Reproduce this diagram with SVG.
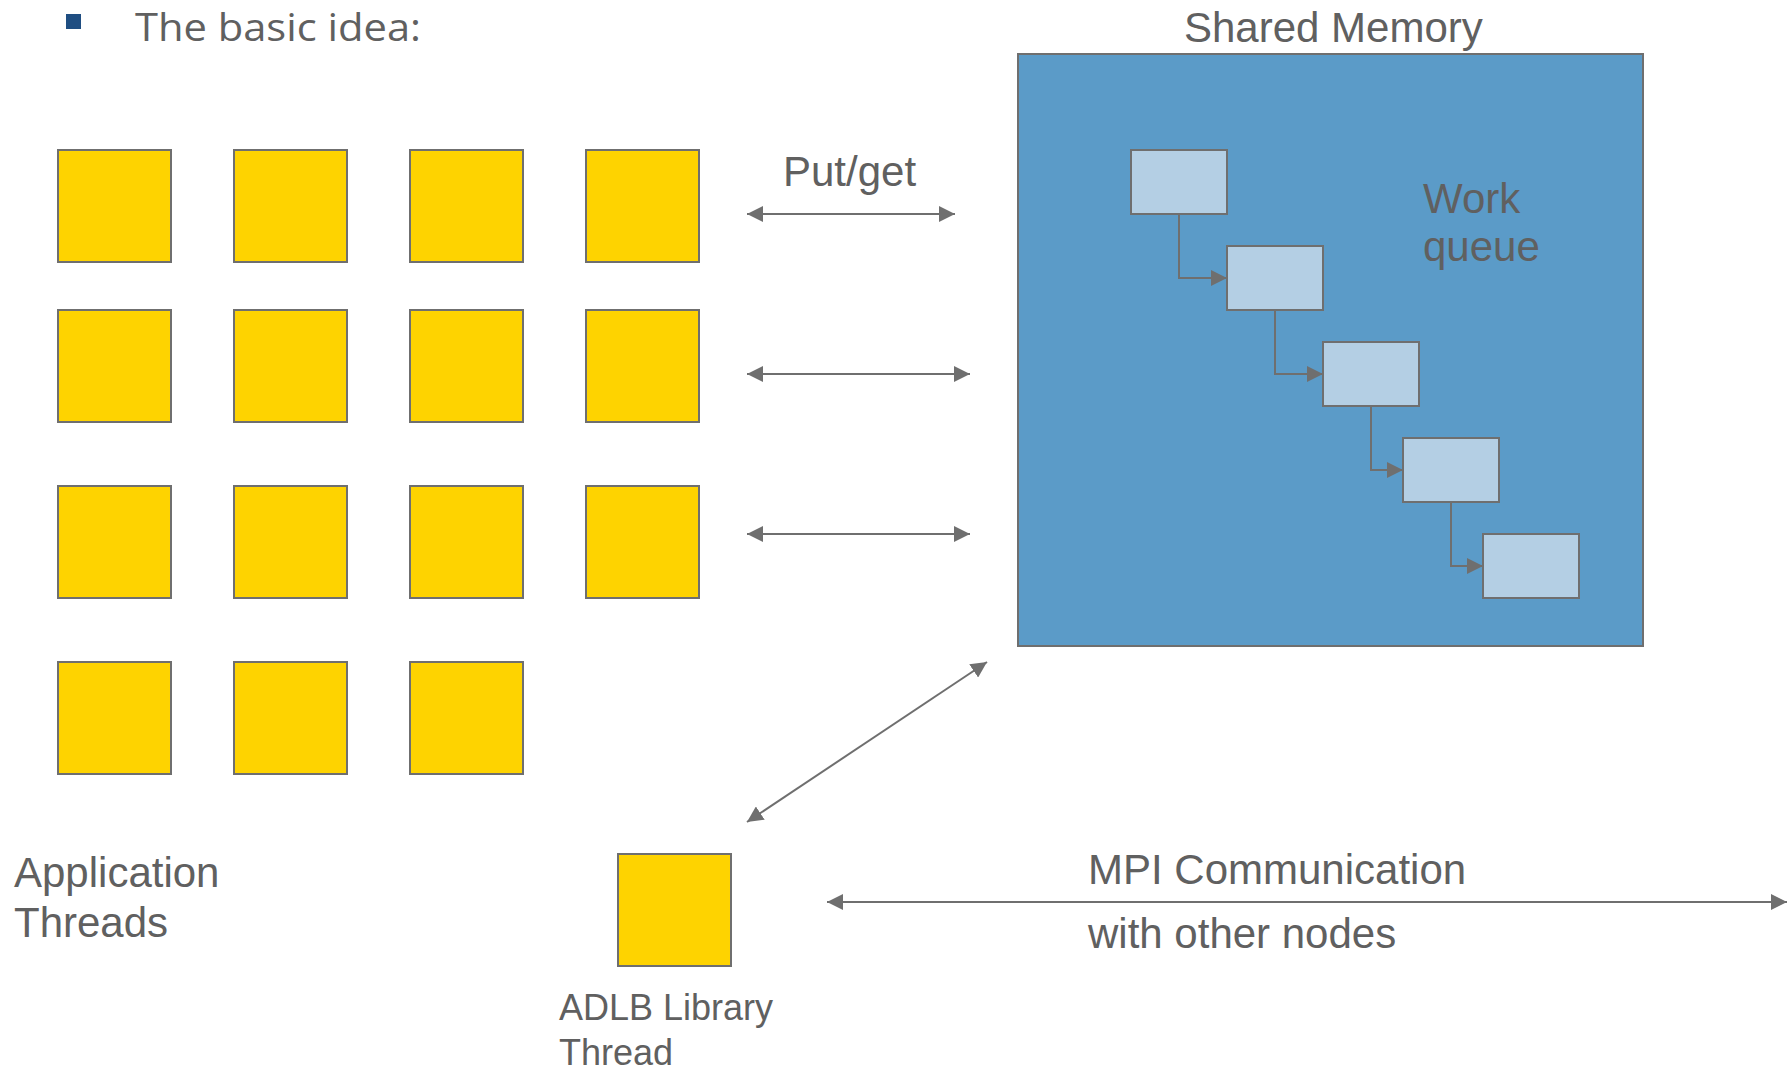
<svg xmlns="http://www.w3.org/2000/svg" width="1792" height="1070" viewBox="0 0 1792 1070">
<defs>
<style>
.t{font-family:"Liberation Sans",Arial,sans-serif;font-size:42px;fill:#606060}
.s{font-family:"Liberation Sans",Arial,sans-serif;font-size:36px;fill:#606060}
.y{fill:#fed300;stroke:#6f6f6f;stroke-width:2}
.q{fill:#b4cfe4;stroke:#6f6f6f;stroke-width:2}
.c{fill:none;stroke:#6f6f6f;stroke-width:2}
</style>
<marker id="ah" markerUnits="userSpaceOnUse" markerWidth="16" markerHeight="16" refX="16" refY="8" orient="auto-start-reverse" viewBox="0 0 16 16">
<path d="M0,0 L16,8 L0,16 Z" fill="#6f6f6f"/>
</marker>
</defs>
<rect width="1792" height="1070" fill="#ffffff"/>
<g id="header">
<rect x="66" y="14" width="15" height="15" fill="#1f4e82"/>
<text x="135" y="41" font-family="'Open Sans','Noto Sans',sans-serif" font-size="38" fill="#606060" textLength="286" lengthAdjust="spacingAndGlyphs">The basic idea:</text>
</g>
<g id="app-threads">
<rect class="y" x="58" y="150" width="113" height="112"/>
<rect class="y" x="234" y="150" width="113" height="112"/>
<rect class="y" x="410" y="150" width="113" height="112"/>
<rect class="y" x="586" y="150" width="113" height="112"/>
<rect class="y" x="58" y="310" width="113" height="112"/>
<rect class="y" x="234" y="310" width="113" height="112"/>
<rect class="y" x="410" y="310" width="113" height="112"/>
<rect class="y" x="586" y="310" width="113" height="112"/>
<rect class="y" x="58" y="486" width="113" height="112"/>
<rect class="y" x="234" y="486" width="113" height="112"/>
<rect class="y" x="410" y="486" width="113" height="112"/>
<rect class="y" x="586" y="486" width="113" height="112"/>
<rect class="y" x="58" y="662" width="113" height="112"/>
<rect class="y" x="234" y="662" width="113" height="112"/>
<rect class="y" x="410" y="662" width="113" height="112"/>
<text class="t" x="14" y="887">Application</text>
<text class="t" x="14" y="937">Threads</text>
</g>
<g id="adlb-thread">
<rect class="y" x="618" y="854" width="113" height="112"/>
<text class="s" x="559" y="1020">ADLB Library</text>
<text class="s" x="559" y="1065">Thread</text>
</g>
<g id="shared-memory">
<text class="t" x="1184" y="42">Shared Memory</text>
<rect x="1018" y="54" width="625" height="592" fill="#5b9bc8" stroke="#6f6f6f" stroke-width="2"/>
<text class="t" x="1423" y="213">Work</text>
<text class="t" x="1423" y="261">queue</text>
</g>
<g id="queue-items">
<rect class="q" x="1131" y="150" width="96" height="64"/>
<rect class="q" x="1227" y="246" width="96" height="64"/>
<rect class="q" x="1323" y="342" width="96" height="64"/>
<rect class="q" x="1403" y="438" width="96" height="64"/>
<rect class="q" x="1483" y="534" width="96" height="64"/>
</g>
<g id="connectors">
<path class="c" d="M1179,214 V278 H1227" marker-end="url(#ah)"/>
<path class="c" d="M1275,310 V374 H1323" marker-end="url(#ah)"/>
<path class="c" d="M1371,406 V470 H1403" marker-end="url(#ah)"/>
<path class="c" d="M1451,502 V566 H1483" marker-end="url(#ah)"/>
<line class="c" x1="747" y1="214" x2="955" y2="214" marker-start="url(#ah)" marker-end="url(#ah)"/>
<line class="c" x1="747" y1="374" x2="970" y2="374" marker-start="url(#ah)" marker-end="url(#ah)"/>
<line class="c" x1="747" y1="534" x2="970" y2="534" marker-start="url(#ah)" marker-end="url(#ah)"/>
<line class="c" x1="747" y1="822" x2="987" y2="662" marker-start="url(#ah)" marker-end="url(#ah)"/>
<line class="c" x1="827" y1="902" x2="1787" y2="902" marker-start="url(#ah)" marker-end="url(#ah)"/>
<text class="t" x="783" y="186">Put/get</text>
<text class="t" x="1088" y="884">MPI Communication</text>
<text class="t" x="1088" y="948">with other nodes</text>
</g>
</svg>
